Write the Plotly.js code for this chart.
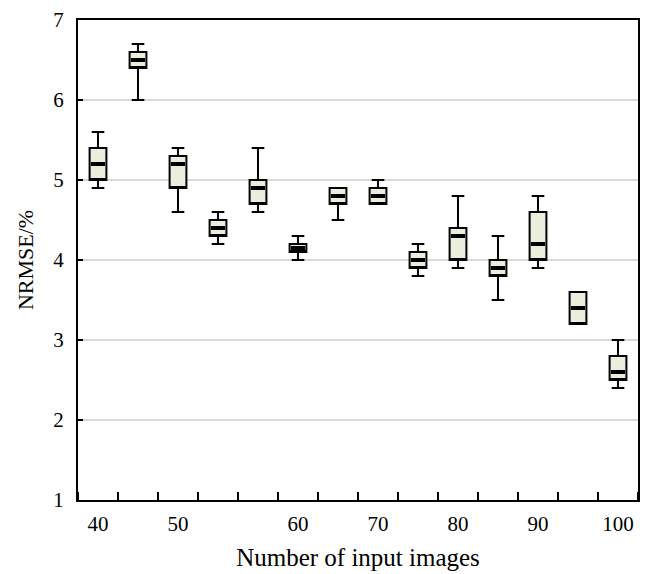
<!DOCTYPE html>
<html>
<head>
<meta charset="utf-8">
<script src="https://cdn.plot.ly/plotly-3.0.1.min.js"></script>
<style>html,body{margin:0;padding:0;background:#fff;}#chart{width:649px;height:574px;}</style>
</head>
<body>
<div id="chart"></div>
<script>
// Category positions (0..13) and which ones carry a label
const positions = [0,1,2,3,4,5,6,7,8,9,10,11,12,13];
const labelPositions = [0,2,5,7,9,11,13];
const labelTexts = ['40','50','60','70','80','90','100'];

// Box statistics (NRMSE, %)
const upper  = [5.6, 6.7, 5.4, 4.6, 5.4, 4.3, 4.9, 5.0, 4.2, 4.8, 4.3, 4.8, 3.6, 3.0];
const q3     = [5.4, 6.6, 5.3, 4.5, 5.0, 4.2, 4.9, 4.9, 4.1, 4.4, 4.0, 4.6, 3.6, 2.8];
const median = [5.2, 6.5, 5.2, 4.4, 4.9, 4.15, 4.8, 4.8, 4.0, 4.3, 3.9, 4.2, 3.4, 2.6];
const q1     = [5.0, 6.4, 4.9, 4.3, 4.7, 4.1, 4.7, 4.7, 3.9, 4.0, 3.8, 4.0, 3.2, 2.5];
const lower  = [4.9, 6.0, 4.6, 4.2, 4.6, 4.0, 4.5, 4.7, 3.8, 3.9, 3.5, 3.9, 3.2, 2.4];

const fontFam = '"Liberation Serif", "Times New Roman", serif';

const boxTrace = {
  type: 'box',
  x: positions,
  q1: q1,
  median: q1, // plotly's own thin median hidden on the lower edge; thick median drawn below
  q3: q3,
  lowerfence: lower,
  upperfence: upper,
  boxpoints: false,
  width: 0.42,
  whiskerwidth: 0.75,
  fillcolor: '#ebeedc',
  line: {color: '#000000', width: 2},
  hoverinfo: 'skip',
  showlegend: false
};

const medianTrace = {
  type: 'scatter',
  mode: 'markers',
  x: positions,
  y: median,
  marker: {symbol: 'line-ew', size: 10, color: '#000', line: {color: '#000', width: 4}},
  hoverinfo: 'skip',
  showlegend: false
};

const layout = {
  width: 649,
  height: 574,
  margin: {l: 78, r: 11, t: 20, b: 74},
  paper_bgcolor: '#ffffff',
  plot_bgcolor: '#ffffff',
  font: {family: fontFam, size: 21, color: '#000'},
  showlegend: false,
  xaxis: {
    range: [-0.5, 13.5],
    tickmode: 'array',
    tickvals: labelPositions,
    ticktext: labelTexts,
    ticks: '',
    showgrid: false,
    zeroline: false,
    showline: true,
    linecolor: '#000',
    linewidth: 2,
    mirror: true,
    ticklabelstandoff: 4,
    minor: {tick0: 0.5, dtick: 1, ticks: 'inside', ticklen: 8, tickwidth: 2, tickcolor: '#000', showgrid: false},
    tickfont: {family: fontFam, size: 21, color: '#000'},
    title: {text: 'Number of input images', font: {family: fontFam, size: 25, color: '#000'}, standoff: 13}
  },
  yaxis: {
    range: [1, 7],
    tickmode: 'linear',
    tick0: 1,
    dtick: 1,
    ticks: 'inside',
    ticklen: 5,
    tickwidth: 2,
    tickcolor: '#000',
    showgrid: true,
    gridcolor: '#d9d9d9',
    gridwidth: 2,
    zeroline: false,
    showline: true,
    linecolor: '#000',
    linewidth: 2,
    mirror: true,
    ticklabelstandoff: 8,
    tickfont: {family: fontFam, size: 21, color: '#000'},
    title: {text: 'NRMSE/%', font: {family: fontFam, size: 22, color: '#000'}, standoff: 14}
  }
};

Plotly.newPlot('chart', [boxTrace, medianTrace], layout, {displayModeBar: false, staticPlot: true});
</script>
</body>
</html>
